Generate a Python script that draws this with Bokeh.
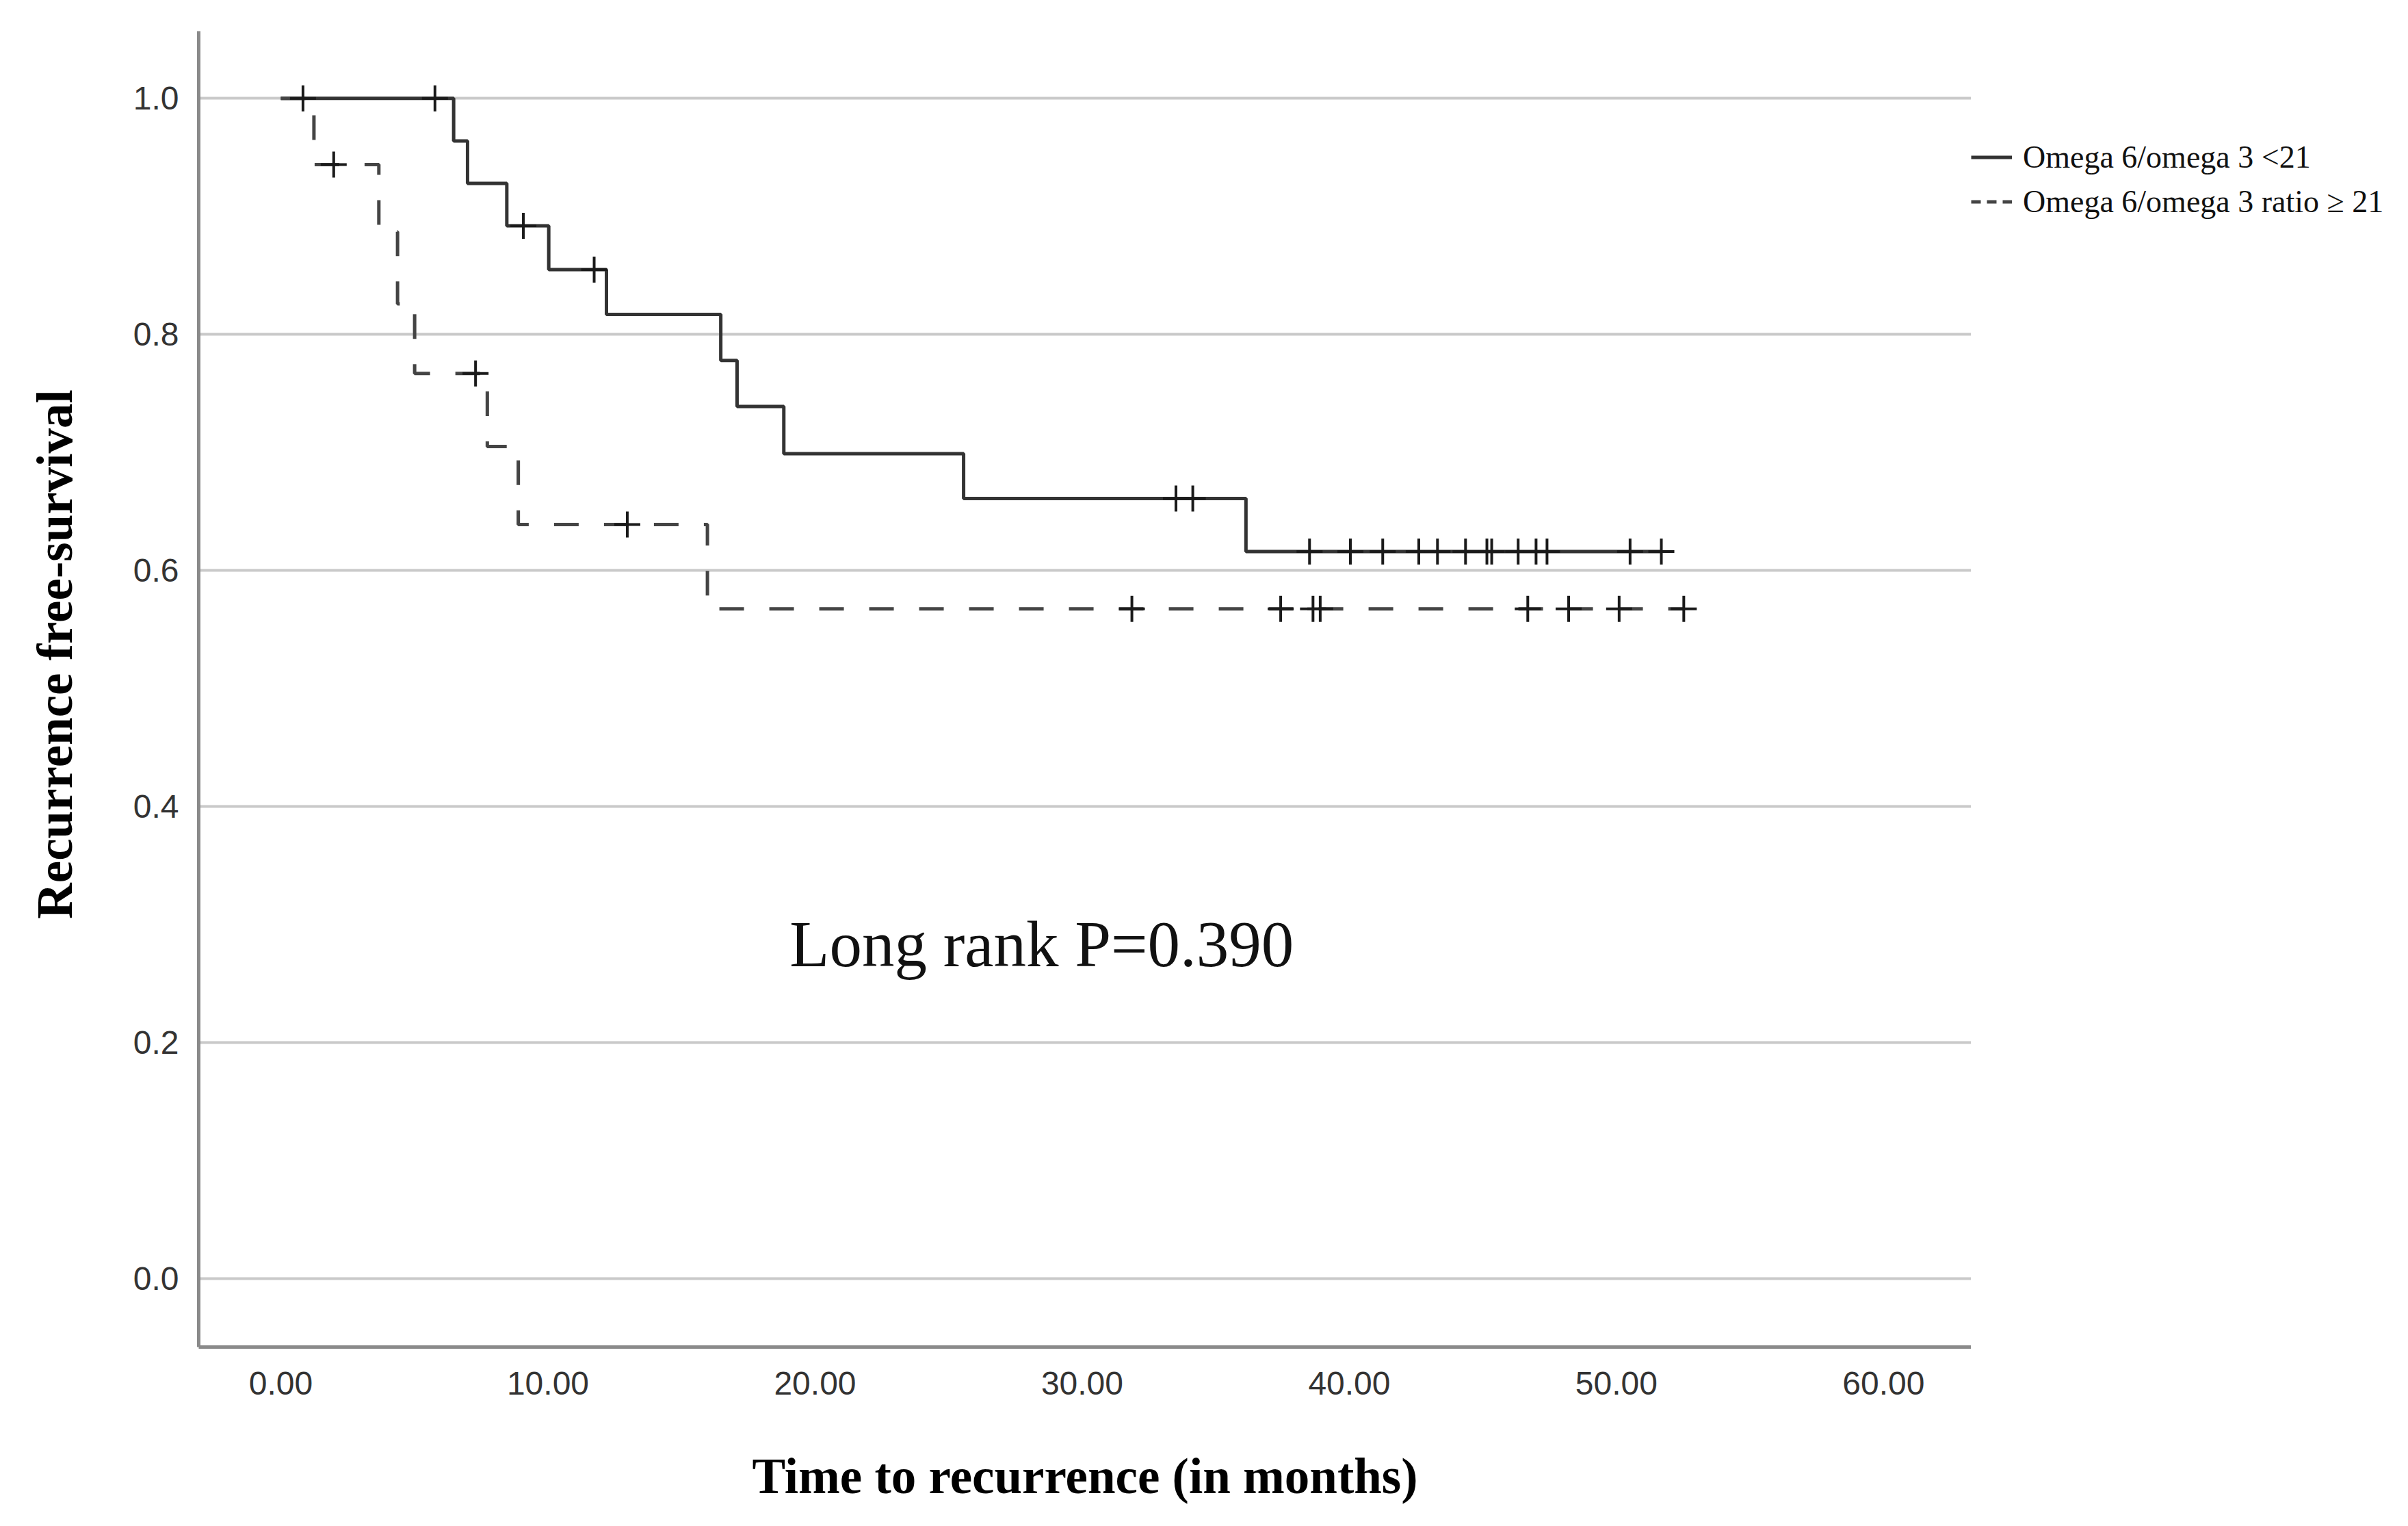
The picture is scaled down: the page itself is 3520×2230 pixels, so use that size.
import math
from bokeh.plotting import figure
from bokeh.layouts import row
from bokeh.models import (Range1d, FixedTicker, NumeralTickFormatter, Legend,
                          LegendItem, Label)
from bokeh.embed import file_html
from bokeh.resources import INLINE

# ---- data ----
# Group 1: Omega 6/omega 3 < 21 (solid)
low_step_t = [0.0, 6.47, 6.99, 8.46, 10.03, 12.19, 16.47, 17.08, 18.83, 25.56, 36.13, 51.68]
low_step_s = [1.0, 0.964, 0.928, 0.892, 0.855, 0.817, 0.778, 0.739, 0.699, 0.661, 0.616, 0.616]
low_cens_t = [0.83, 5.77, 9.08, 11.73, 33.51, 34.14, 38.51, 40.04, 41.25, 42.60, 43.30,
              44.35, 45.15, 45.33, 46.32, 46.99, 47.40, 50.51, 51.68]
low_cens_s = [1.0, 1.0, 0.892, 0.855, 0.661, 0.661, 0.616, 0.616, 0.616, 0.616, 0.616,
              0.616, 0.616, 0.616, 0.616, 0.616, 0.616, 0.616, 0.616]

# Group 2: Omega 6/omega 3 ratio >= 21 (dashed)
high_step_t = [0.0, 1.24, 3.67, 4.37, 5.01, 7.73, 8.89, 15.97, 52.52]
high_step_s = [1.0, 0.944, 0.887, 0.826, 0.767, 0.705, 0.639, 0.5675, 0.5675]
high_cens_t = [1.98, 7.29, 12.97, 31.86, 37.43, 38.64, 38.91, 46.68, 48.21, 50.10, 52.52]
high_cens_s = [0.944, 0.767, 0.639, 0.5675, 0.5675, 0.5675, 0.5675, 0.5675, 0.5675, 0.5675, 0.5675]

x_ticks = [0, 10, 20, 30, 40, 50, 60]
y_ticks = [0.0, 0.2, 0.4, 0.6, 0.8, 1.0]

series_names = ["Omega 6/omega 3 <21", "Omega 6/omega 3 ratio \u2265 21"]
annotation = "Long rank P=0.390"
x_title = "Time to recurrence (in months)"
y_title = "Recurrence free-survival"

SOLID_COLOR = "#333333"
DASH_COLOR = "#444444"
Y_START, Y_END = -0.058, 1.057

# ---- main figure ----
p = figure(width=2721, height=2222, output_backend="svg", toolbar_location=None,
           x_range=Range1d(-3.073, 63.28), y_range=Range1d(Y_START, Y_END),
           min_border_left=130, min_border_right=0, min_border_top=45,
           min_border_bottom=254, title=None)
p.outline_line_color = None
p.background_fill_color = "white"
p.border_fill_color = "white"

p.xgrid.grid_line_color = None
p.ygrid.grid_line_color = "#c9c9c9"
p.ygrid.grid_line_width = 4

p.xaxis.ticker = FixedTicker(ticks=x_ticks)
p.yaxis.ticker = FixedTicker(ticks=y_ticks)
p.xaxis.formatter = NumeralTickFormatter(format="0.00")
p.yaxis.formatter = NumeralTickFormatter(format="0.0")

for ax in (p.xaxis, p.yaxis):
    ax.axis_line_color = "#8a8a8a"
    ax.axis_line_width = 5
    ax.major_tick_line_color = None
    ax.minor_tick_line_color = None
    ax.major_label_text_font = "Liberation Sans"
    ax.major_label_text_font_size = "48px"
    ax.major_label_text_color = "#333333"
    ax.axis_label_text_font = "Liberation Serif"
    ax.axis_label_text_font_style = "bold"
    ax.axis_label_text_font_size = "73px"
    ax.axis_label_text_color = "black"

p.xaxis.major_label_standoff = 30
p.yaxis.major_label_standoff = 23
p.xaxis.axis_label = x_title
p.xaxis.axis_label_standoff = 76

# ---- curves ----
p.step(low_step_t, low_step_s, mode="after", line_color=SOLID_COLOR, line_width=5)
p.step(high_step_t, high_step_s, mode="after", line_color=DASH_COLOR,
       line_width=5, line_dash="36 37")
p.scatter(low_cens_t, low_cens_s, marker="cross", size=38, line_width=4, line_color="#1a1a1a")
p.scatter(high_cens_t, high_cens_s, marker="cross", size=38, line_width=4, line_color="#1a1a1a")

# ---- annotation ----
p.add_layout(Label(x=19.05, y=0.283, text=annotation, text_font="Liberation Serif",
                   text_font_size="95px", text_baseline="alphabetic", text_align="left",
                   text_color="#111111"))

# ---- left strip holding the y-axis title (frame aligned with the main frame) ----
yl = figure(width=160, height=2222, output_backend="svg", toolbar_location=None,
            x_range=Range1d(0, 160), y_range=Range1d(Y_START, Y_END),
            x_axis_location=None, y_axis_location=None,
            min_border_left=0, min_border_right=0, min_border_top=0, min_border_bottom=0,
            title=None)
yl.outline_line_color = None
yl.grid.visible = False
yl.border_fill_color = "white"
yl.add_layout(Label(x=80, y=0.529, text=y_title, angle=math.pi / 2,
                    text_font="Liberation Serif", text_font_style="bold",
                    text_font_size="73px", text_align="center", text_baseline="middle",
                    text_color="black"))

# ---- legend strip at the right (frame aligned with the main frame) ----
q = figure(width=623, height=2222, output_backend="svg", toolbar_location=None,
           x_range=Range1d(0, 1), y_range=Range1d(0, 1),
           x_axis_location=None, y_axis_location=None,
           min_border_left=0, min_border_right=0, min_border_top=0, min_border_bottom=0,
           title=None)
q.outline_line_color = None
q.grid.visible = False
q.background_fill_color = "white"
q.border_fill_color = "white"
# legend sample renderers, placed outside the visible range
k_low = q.line([-5, -4], [-5, -4], line_color=SOLID_COLOR, line_width=5)
k_high = q.line([-5, -4], [-5, -4], line_color=DASH_COLOR, line_width=5, line_dash="14 9")

legend = Legend(items=[LegendItem(label=series_names[0], renderers=[k_low]),
                       LegendItem(label=series_names[1], renderers=[k_high])],
                location=(0, 1641))
legend.background_fill_alpha = 0
legend.border_line_color = None
legend.padding = 0
legend.margin = 0
legend.spacing = 0
legend.glyph_width = 60
legend.glyph_height = 65
legend.label_height = 65
legend.label_standoff = 16
legend.label_text_font = "Liberation Serif"
legend.label_text_font_size = "46px"
legend.label_text_color = "#111111"
q.add_layout(legend)

layout = row(yl, p, q, spacing=0)
open("out.html", "w").write(file_html(layout, INLINE))
